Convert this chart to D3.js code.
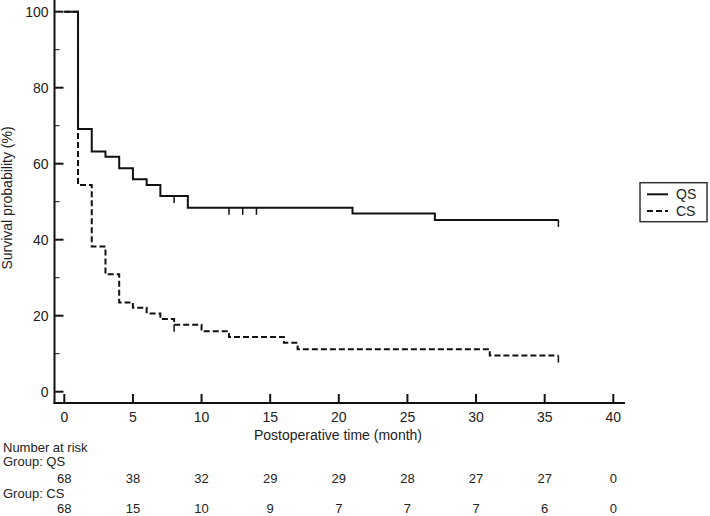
<!DOCTYPE html>
<html>
<head>
<meta charset="utf-8">
<script src="https://cdn.jsdelivr.net/npm/d3@7"></script>
<style>
  body { margin: 0; background: #fff; }
  text { font-family: "Liberation Sans", Arial, sans-serif; fill: #222; }
</style>
</head>
<body>
<div id="chart"></div>
<script>
// Kaplan-Meier estimates
var qsTemps = [0, 1, 2, 3, 4, 5, 6, 7, 9, 21, 27, 36];
var qsSurvie = [100, 69.1, 63.2, 61.8, 58.8, 55.9, 54.4, 51.5, 48.4, 46.9, 45.2, 45.2];
var qsCensures = [8, 12, 13, 14, 36];

var csTemps = [0, 1, 2, 3, 4, 5, 6, 7, 8, 10, 12, 16, 17, 31, 36];
var csSurvie = [100, 54.4, 38.2, 30.9, 23.5, 22.1, 20.6, 19.1, 17.6, 15.9, 14.4, 12.9, 11.2, 9.5, 9.5];
var csCensures = [8, 36];

var ticksX = [0, 5, 10, 15, 20, 25, 30, 35, 40];
var ticksY = [0, 20, 40, 60, 80, 100];
var ticksYmineurs = [10, 30, 50, 70, 90];
var risqueQS = [68, 38, 32, 29, 29, 28, 27, 27, 0];
var risqueCS = [68, 15, 10, 9, 7, 7, 7, 6, 0];

var svg = d3.select("#chart").append("svg").attr("width", 710).attr("height", 516);

var x = d3.scaleLinear().domain([0, 40]).range([64.3, 613.3]);
var y = d3.scaleLinear().domain([0, 100]).range([391.7, 11.7]);
var yAxe = 403; // ligne de l'axe x, sous le zero
var xAxe = 54.5;

// axes
svg.append("line").attr("x1", xAxe).attr("x2", xAxe).attr("y1", 0).attr("y2", yAxe + 1)
  .attr("stroke", "#111").attr("stroke-width", 2);
svg.append("line").attr("x1", xAxe - 1).attr("x2", 625).attr("y1", yAxe).attr("y2", yAxe)
  .attr("stroke", "#111").attr("stroke-width", 2);

ticksY.forEach(function(t) {
  svg.append("line").attr("x1", xAxe).attr("x2", xAxe + 9).attr("y1", y(t)).attr("y2", y(t))
    .attr("stroke", "#111").attr("stroke-width", 2);
  svg.append("text").attr("x", xAxe - 6).attr("y", y(t)).attr("dy", "0.36em")
    .attr("text-anchor", "end").attr("font-size", 14).text(t);
});
ticksYmineurs.forEach(function(t) {
  svg.append("line").attr("x1", xAxe).attr("x2", xAxe + 5).attr("y1", y(t)).attr("y2", y(t))
    .attr("stroke", "#111").attr("stroke-width", 1);
});
ticksX.forEach(function(t) {
  svg.append("line").attr("x1", x(t)).attr("x2", x(t)).attr("y1", yAxe).attr("y2", yAxe - 9)
    .attr("stroke", "#111").attr("stroke-width", 2);
  svg.append("text").attr("x", x(t)).attr("y", yAxe + 19).attr("text-anchor", "middle")
    .attr("font-size", 14).text(t);
});

svg.append("text").attr("x", 338).attr("y", 440).attr("text-anchor", "middle")
  .attr("font-size", 14).text("Postoperative time (month)");
svg.append("text").attr("transform", "translate(12,198) rotate(-90)").attr("text-anchor", "middle")
  .attr("font-size", 14).text("Survival probability (%)");

// courbes
var ligne = d3.line().x(function(d) { return x(d[0]); }).y(function(d) { return y(d[1]); })
  .curve(d3.curveStepAfter);

function valeurA(temps, survie, t) {
  var v = survie[0];
  for (var i = 0; i < temps.length; i++) { if (temps[i] <= t) v = survie[i]; }
  return v;
}

function trace(temps, survie, censures, dash) {
  svg.append("path").datum(d3.zip(temps, survie)).attr("d", ligne)
    .attr("fill", "none").attr("stroke", "#111").attr("stroke-width", 2)
    .attr("stroke-dasharray", dash);
  censures.forEach(function(c) {
    var v = valeurA(temps, survie, c);
    svg.append("line").attr("x1", x(c)).attr("x2", x(c)).attr("y1", y(v)).attr("y2", y(v) + 7)
      .attr("stroke", "#111").attr("stroke-width", 1.5);
  });
}
trace(qsTemps, qsSurvie, qsCensures, null);
trace(csTemps, csSurvie, csCensures, "6,3");

// legende
var leg = svg.append("g");
leg.append("rect").attr("x", 640).attr("y", 182.7).attr("width", 67).attr("height", 39)
  .attr("fill", "#fff").attr("stroke", "#333").attr("stroke-width", 1.5);
[["QS", null, 194.3], ["CS", "6,3", 211]].forEach(function(l) {
  leg.append("line").attr("x1", 647).attr("x2", 668).attr("y1", l[2]).attr("y2", l[2])
    .attr("stroke", "#111").attr("stroke-width", 2).attr("stroke-dasharray", l[1]);
  leg.append("text").attr("x", 676).attr("y", l[2]).attr("dy", "0.36em").attr("font-size", 14).text(l[0]);
});

// nombre a risque
svg.append("text").attr("x", 3).attr("y", 451.7).attr("font-size", 13).text("Number at risk");
svg.append("text").attr("x", 3).attr("y", 466).attr("font-size", 13).text("Group: QS");
svg.append("text").attr("x", 3).attr("y", 497.5).attr("font-size", 13).text("Group: CS");
risqueQS.forEach(function(n, i) {
  svg.append("text").attr("x", x(ticksX[i])).attr("y", 483.3).attr("text-anchor", "middle")
    .attr("font-size", 13).text(n);
});
risqueCS.forEach(function(n, i) {
  svg.append("text").attr("x", x(ticksX[i])).attr("y", 513).attr("text-anchor", "middle")
    .attr("font-size", 13).text(n);
});
</script>
</body>
</html>
